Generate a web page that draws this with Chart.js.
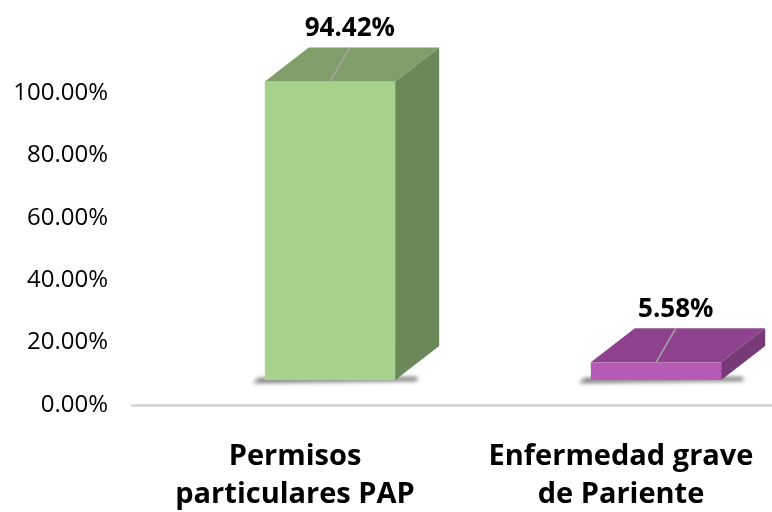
<!DOCTYPE html>
<html>
<head>
<meta charset="utf-8">
<script src="https://cdn.jsdelivr.net/npm/chart.js@4/dist/chart.umd.min.js"></script>
<style>
  html, body { margin: 0; background: #fff; overflow: hidden; }
  canvas { display: block; }
</style>
</head>
<body>
<canvas id="myChart" width="784" height="512"></canvas>
<script>
const categories = [['Permisos', 'particulares PAP'], ['Enfermedad grave', 'de Pariente']];
const values = [94.42, 5.58];
const yTicks = [0, 20, 40, 60, 80, 100];

const frontColors = ['#a9d18e', '#b65ab6'];
const topColors = ['#7f9e6a', '#8f428d'];
const sideColors = ['#6b8858', '#773a76'];

// 3d look: front face pushed right/up from the category slot, depth goes back-right
const OX = 35, OY = -25, DX = 44, DY = -34, PERSP = 1.013;

const bar3d = {
  id: 'bar3d',
  afterDatasetsDraw(chart) {
    const ctx = chart.ctx;
    const meta = chart.getDatasetMeta(0);
    meta.data.forEach((bar, i) => {
      const w = bar.width;
      const fl = bar.x - w / 2 + OX, fr = fl + w;
      const fb = bar.base + OY;
      const ft = fb - (bar.base - bar.y) * PERSP;
      ctx.save();
      // soft shadow on the floor
      ctx.filter = 'blur(2px)';
      ctx.fillStyle = 'rgba(0,0,0,0.55)';
      ctx.beginPath();
      ctx.moveTo(fl - 12, fb + 3);
      ctx.lineTo(fr + DX * 0.5, fb + 1);
      ctx.lineTo(fr + DX * 0.5, fb - 3);
      ctx.lineTo(fl - 6, fb - 2);
      ctx.closePath();
      ctx.fill();
      ctx.filter = 'none';
      // front
      ctx.fillStyle = frontColors[i];
      ctx.fillRect(fl, ft, w, fb - ft);
      // top
      ctx.fillStyle = topColors[i];
      ctx.beginPath();
      ctx.moveTo(fl, ft);
      ctx.lineTo(fr, ft);
      ctx.lineTo(fr + DX, ft + DY);
      ctx.lineTo(fl + DX, ft + DY);
      ctx.closePath();
      ctx.fill();
      // side
      ctx.fillStyle = sideColors[i];
      ctx.beginPath();
      ctx.moveTo(fr, ft);
      ctx.lineTo(fr + DX, ft + DY);
      ctx.lineTo(fr + DX, fb + DY);
      ctx.lineTo(fr, fb);
      ctx.closePath();
      ctx.fill();
      // leader line + value label
      const cx = (fl + fr) / 2;
      const lx = cx + DX * 0.45;
      ctx.strokeStyle = '#a6a6a6';
      ctx.lineWidth = 1.5;
      ctx.beginPath();
      ctx.moveTo(cx, ft);
      ctx.lineTo(lx, ft + DY);
      ctx.stroke();
      ctx.fillStyle = '#000';
      ctx.font = "bold 26px 'Open Sans', sans-serif";
      ctx.textAlign = 'center';
      ctx.textBaseline = 'middle';
      ctx.fillText(values[i].toFixed(2) + '%', lx, ft + DY - 19);
      ctx.restore();
    });
  }
};

Chart.defaults.font.family = "'Open Sans', sans-serif";
Chart.defaults.color = '#000';

new Chart(document.getElementById('myChart'), {
  type: 'bar',
  data: {
    labels: categories,
    datasets: [{
      data: values,
      backgroundColor: 'rgba(0,0,0,0)',
      barPercentage: 0.4,
      categoryPercentage: 1
    }]
  },
  options: {
    responsive: false,
    animation: false,
    layout: { padding: { top: 93, right: 0, left: 0, bottom: 0 } },
    plugins: { legend: { display: false }, tooltip: { enabled: false } },
    scales: {
      x: {
        grid: { display: false },
        border: { display: true, color: '#d9d9d9', width: 3 },
        ticks: { font: { size: 29, weight: 'bold', lineHeight: 1.3 }, padding: 25, maxRotation: 0 },
        afterFit(scale) { scale.height = 107; }
      },
      y: {
        min: 0,
        max: 100,
        grid: { display: false, drawTicks: false },
        border: { display: false },
        afterBuildTicks(scale) { scale.ticks = yTicks.map(v => ({ value: v })); },
        ticks: {
          font: { size: 24 },
          padding: 24,
          callback: v => v.toFixed(2) + '%'
        },
        afterFit(scale) { scale.width = 132; }
      }
    }
  },
  plugins: [bar3d]
});
</script>
</body>
</html>
